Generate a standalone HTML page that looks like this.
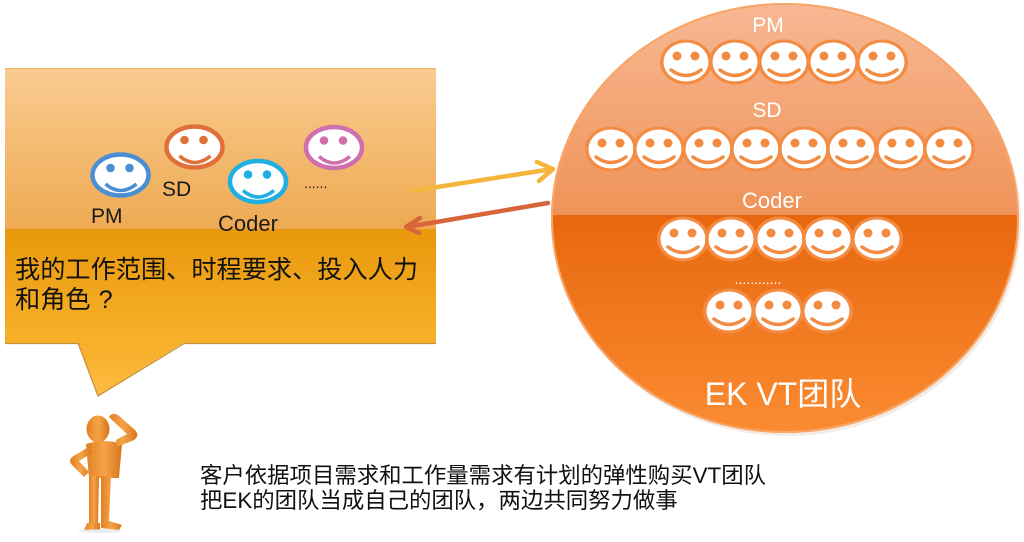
<!DOCTYPE html>
<html><head><meta charset="utf-8"><style>
html,body{margin:0;padding:0;background:#fff;}
svg{display:block;}
text{font-family:"Liberation Sans","Noto Sans CJK SC",sans-serif;}
</style></head><body>
<svg width="1024" height="542" viewBox="0 0 1024 542" xmlns="http://www.w3.org/2000/svg">
<defs>
<linearGradient id="bt" x1="0" y1="0" x2="0" y2="1"><stop offset="0" stop-color="#f9cb91"/><stop offset="1" stop-color="#eeaa52"/></linearGradient>
<linearGradient id="bb" x1="0" y1="0" x2="0" y2="1"><stop offset="0" stop-color="#e8980c"/><stop offset="1" stop-color="#f8b12a"/></linearGradient>
<linearGradient id="tl" x1="0" y1="0" x2="0" y2="1"><stop offset="0" stop-color="#f7ae28"/><stop offset="1" stop-color="#fcbc42"/></linearGradient>
<linearGradient id="ct" x1="0" y1="0" x2="0" y2="1"><stop offset="0" stop-color="#f8b894"/><stop offset="1" stop-color="#ef9358"/></linearGradient>
<linearGradient id="cb" x1="0" y1="0" x2="0" y2="1"><stop offset="0" stop-color="#e8670e"/><stop offset="1" stop-color="#fb8c32"/></linearGradient>
<linearGradient id="man" x1="0" y1="0" x2="1" y2="0"><stop offset="0" stop-color="#e08024"/><stop offset="0.5" stop-color="#f6a447"/><stop offset="1" stop-color="#d8741c"/></linearGradient>
<clipPath id="cc"><ellipse cx="785" cy="218" rx="234" ry="215"/></clipPath>
<g id="rf">
<ellipse rx="26" ry="22.5" fill="#f38c42"/>
<ellipse rx="22.5" ry="19.5" fill="#fff"/>
<circle cx="-9" cy="-6" r="4.5" fill="#f38c42"/>
<circle cx="9" cy="-6" r="4.5" fill="#f38c42"/>
<path d="M-15 8 Q0 19 15 8" stroke="#f38c42" stroke-width="3.5" fill="none" stroke-linecap="round"/>
</g>
</defs>

<!-- callout box -->
<rect x="5" y="68" width="431" height="162" fill="url(#bt)"/>
<rect x="5" y="229" width="431" height="114" fill="url(#bb)"/>
<line x1="5" y1="68.5" x2="436" y2="68.5" stroke="#f2b45a" stroke-width="1"/>
<polygon points="78,342 185,342 98,396" fill="url(#tl)"/>
<line x1="5" y1="343.5" x2="78" y2="343.5" stroke="#c4913a" stroke-width="1.2"/>
<line x1="185" y1="343.5" x2="436" y2="343.5" stroke="#c4913a" stroke-width="1.2"/>
<polyline points="78,343 98,396 185,343" fill="none" stroke="#c4913a" stroke-width="1.2"/>

<!-- left faces -->
<g transform="translate(120.5,175)" stroke="#4a8ed4" fill="#4a8ed4">
<ellipse rx="28" ry="20.5" fill="#fff" stroke-width="4.5"/>
<circle cx="-10" cy="-7" r="4.3" stroke="none"/><circle cx="9" cy="-7" r="4.3" stroke="none"/>
<path d="M-15 9 Q0 22 16 9" fill="none" stroke-width="3.5"/></g>
<g transform="translate(194.5,147)" stroke="#e0703a" fill="#e0703a">
<ellipse rx="28" ry="20.5" fill="#fff" stroke-width="4.5"/>
<circle cx="-10" cy="-7" r="4.3" stroke="none"/><circle cx="9" cy="-7" r="4.3" stroke="none"/>
<path d="M-15 9 Q0 22 16 9" fill="none" stroke-width="3.5"/></g>
<g transform="translate(258,181.5)" stroke="#1fb0e2" fill="#1fb0e2">
<ellipse rx="28" ry="20.5" fill="#fff" stroke-width="4.5"/>
<circle cx="-10" cy="-7" r="4.3" stroke="none"/><circle cx="9" cy="-7" r="4.3" stroke="none"/>
<path d="M-15 9 Q0 22 16 9" fill="none" stroke-width="3.5"/></g>
<g transform="translate(334,147.5)" stroke="#d06fae" fill="#d06fae">
<ellipse rx="28" ry="20.5" fill="#fff" stroke-width="4.5"/>
<circle cx="-10" cy="-7" r="4.3" stroke="none"/><circle cx="9" cy="-7" r="4.3" stroke="none"/>
<path d="M-15 9 Q0 22 16 9" fill="none" stroke-width="3.5"/></g>

<text x="91" y="223" font-size="21" fill="#1a1a1a">PM</text>
<text x="162" y="196" font-size="21" fill="#1a1a1a">SD</text>
<text x="218" y="231" font-size="22" fill="#1a1a1a">Coder</text>
<text x="304" y="188" font-size="14" fill="#1a1a1a">......</text>

<text x="15" y="278" font-size="25.2" fill="#111">我的工作范围、时程要求、投入人力</text>
<text x="15" y="308" font-size="25.2" fill="#111">和角色<tspan dx="8">?</tspan></text>

<!-- circle -->
<ellipse cx="787" cy="221" rx="234" ry="215" fill="#e8d8cc" opacity="0.5"/>
<g clip-path="url(#cc)">
<rect x="550" y="0" width="472" height="216" fill="url(#ct)"/>
<rect x="550" y="215" width="472" height="222" fill="url(#cb)"/>
</g>
<ellipse cx="785" cy="218" rx="233" ry="214" fill="none" stroke="#f9a565" stroke-width="2"/>

<text x="768" y="32" font-size="21" fill="#fff" text-anchor="middle">PM</text>
<text x="767" y="117" font-size="21" fill="#fff" text-anchor="middle">SD</text>
<text x="772" y="208" font-size="22" fill="#fff" text-anchor="middle">Coder</text>
<text x="758" y="284" font-size="14" fill="#fff" text-anchor="middle">............</text>
<text x="783" y="405" font-size="32" fill="#fff" text-anchor="middle">EK VT团队</text>

<use href="#rf" x="686" y="62"/><use href="#rf" x="735" y="62"/><use href="#rf" x="784" y="62"/><use href="#rf" x="833" y="62"/><use href="#rf" x="882" y="62"/>
<use href="#rf" x="611" y="149"/><use href="#rf" x="659" y="149"/><use href="#rf" x="708" y="149"/><use href="#rf" x="756" y="149"/><use href="#rf" x="804" y="149"/><use href="#rf" x="852" y="149"/><use href="#rf" x="901" y="149"/><use href="#rf" x="949" y="149"/>
<use href="#rf" x="683" y="239"/><use href="#rf" x="731" y="239"/><use href="#rf" x="780" y="239"/><use href="#rf" x="828" y="239"/><use href="#rf" x="877" y="239"/>
<use href="#rf" x="729" y="311"/><use href="#rf" x="778" y="311"/><use href="#rf" x="827" y="311"/>

<!-- arrows -->
<g stroke="#f5b43a" stroke-width="4.5" fill="none" stroke-linecap="round" stroke-linejoin="round">
<line x1="412" y1="191" x2="552" y2="169"/>
<polyline points="537,162 553,169 539,181"/>
</g>
<g stroke="#d8643a" stroke-width="4.5" fill="none" stroke-linecap="round" stroke-linejoin="round">
<line x1="548" y1="203" x2="407" y2="227"/>
<polyline points="420,218 406,227 419,233"/>
</g>

<!-- stick man -->
<g fill="url(#man)">
<ellipse cx="98" cy="429" rx="11.5" ry="13.5"/>
<path d="M86 444 Q104 438 122 444 L119 478 L89 478 Z"/>
<path d="M117 447 L134 440 Q140 436 135 430 L118 415 Q112 412 109 417 L112 420 L127 434 L116 440 Z"/>
<path d="M90 446 L72 457 Q68 461 72 465 L84 477 L89 472 L79 461 L92 453 Z"/>
<path d="M89 476 L99 476 L98 523 L94 527 L89 523 Z"/>
<path d="M101 476 L111 476 L109 521 L122 525 L119 530 L101 528 Z"/>
<path d="M87 523 L100 523 L100 530 L84 530 Z"/>
</g>
<ellipse cx="100" cy="531" rx="22" ry="2" fill="#ddd" opacity="0.6"/>

<!-- bottom text -->
<text x="200" y="483" font-size="22.4" fill="#111">客户依据项目需求和工作量需求有计划的弹性购买VT团队</text>
<text x="200" y="508" font-size="22.4" fill="#111">把EK的团队当成自己的团队，两边共同努力做事</text>
</svg>
</body></html>
